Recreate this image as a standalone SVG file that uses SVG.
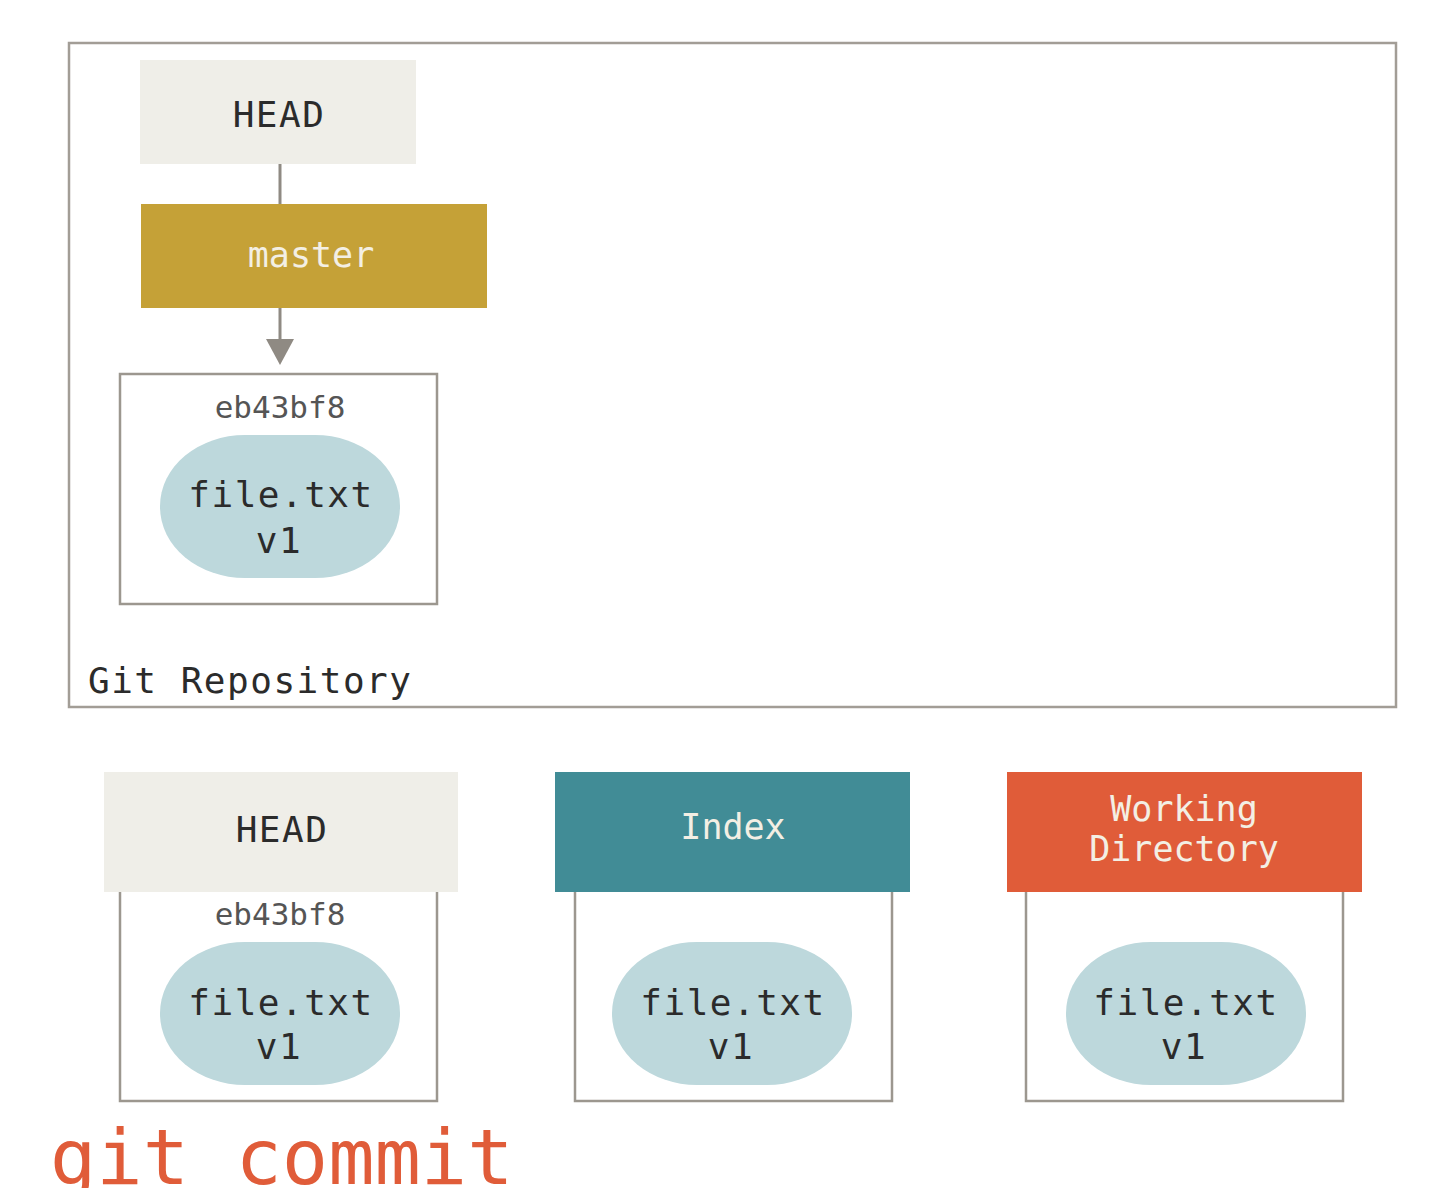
<svg xmlns="http://www.w3.org/2000/svg" width="1440" height="1188" viewBox="0 0 1440 1188">
<style>
.t{font-family:"DejaVu Sans Mono","Liberation Mono",monospace;text-anchor:middle}
.dk{fill:#2b2b2b;font-size:36px;letter-spacing:1.5px}
.lt{fill:#f3efe4;font-size:35px}
.hash{fill:#555;font-size:31px}
.box{fill:#fff;stroke:#9c978f;stroke-width:2.5}
.pill{fill:#bdd8dc}
.conn{stroke:#8f8a83;stroke-width:3;fill:none}
</style>
<rect width="1440" height="1188" fill="#fff"/>
<g id="repo">
<rect x="69" y="43" width="1327" height="664" fill="#fff" stroke="#a29d96" stroke-width="2.5"/>
<text x="88" y="693" style="font-family:'DejaVu Sans Mono','Liberation Mono',monospace;font-size:36px;fill:#2b2b2b;letter-spacing:1.5px">Git Repository</text>
</g>
<g id="connectors">
<line class="conn" x1="280" y1="164" x2="280" y2="204"/>
<line class="conn" x1="280" y1="308" x2="280" y2="342"/>
<polygon points="266,339 294,339 280,365" fill="#8f8a83"/>
</g>
<g id="head-top">
<rect x="140" y="60" width="276" height="104" fill="#efeee8"/>
<text class="t dk" x="279" y="127">HEAD</text>
</g>
<g id="master">
<rect x="141" y="204" width="346" height="104" fill="#c5a137"/>
<text class="t lt" x="311" y="267">master</text>
</g>
<g id="commit-top">
<rect class="box" x="120" y="374" width="317" height="230"/>
<text class="t hash" x="280" y="418">eb43bf8</text>
<rect class="pill" x="160" y="435" width="240" height="143" rx="85" ry="71"/>
<text class="t dk" x="281" y="507">file.txt</text>
<text class="t dk" x="279" y="553">v1</text>
</g>
<g id="head-bottom">
<rect class="box" x="120" y="880" width="317" height="221"/>
<rect x="104" y="772" width="354" height="120" fill="#efeee8"/>
<text class="t dk" x="282" y="842">HEAD</text>
<text class="t hash" x="280" y="925">eb43bf8</text>
<rect class="pill" x="160" y="942" width="240" height="143" rx="85" ry="71"/>
<text class="t dk" x="281" y="1015">file.txt</text>
<text class="t dk" x="279" y="1059">v1</text>
</g>
<g id="index">
<rect class="box" x="575" y="880" width="317" height="221"/>
<rect x="555" y="772" width="355" height="120" fill="#418c96"/>
<text class="t lt" x="733" y="839">Index</text>
<rect class="pill" x="612" y="942" width="240" height="143" rx="85" ry="71"/>
<text class="t dk" x="733" y="1015">file.txt</text>
<text class="t dk" x="731" y="1059">v1</text>
</g>
<g id="working">
<rect class="box" x="1026" y="880" width="317" height="221"/>
<rect x="1007" y="772" width="355" height="120" fill="#e05c39"/>
<text class="t lt" x="1184" y="821">Working</text>
<text class="t lt" x="1184" y="861">Directory</text>
<rect class="pill" x="1066" y="942" width="240" height="143" rx="85" ry="71"/>
<text class="t dk" x="1186" y="1015">file.txt</text>
<text class="t dk" x="1184" y="1059">v1</text>
</g>
<g id="caption">
<text x="50" y="1184" style="font-family:'DejaVu Sans Mono','Liberation Mono',monospace;font-size:77px;fill:#e05c39">git commit</text>
</g>
</svg>
